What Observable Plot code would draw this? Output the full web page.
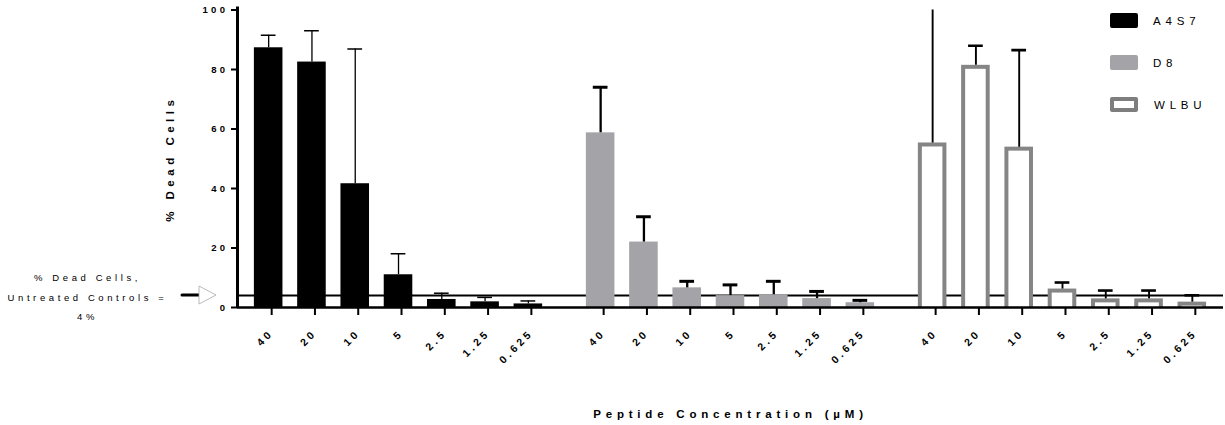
<!DOCTYPE html>
<html><head><meta charset="utf-8">
<script src="https://cdn.jsdelivr.net/npm/d3@7"></script>
<script src="https://cdn.jsdelivr.net/npm/@observablehq/plot@0.6"></script>
<style>
body{margin:0;background:#fff;font-family:"Liberation Sans",Arial,sans-serif;}
#wrap{position:relative;width:1225px;height:425px;overflow:hidden;}
#wrap svg{position:absolute;left:0;top:0;}
g[aria-label="y-axis tick label"] text{letter-spacing:3.4px;}
g[aria-label="x-axis tick label"] text{letter-spacing:3.3px;}
g[aria-label="x-axis label"] text{letter-spacing:4.8px;font-size:11.5px;font-weight:bold;}
g[aria-label="y-axis label"] text{letter-spacing:4.5px;font-size:11.5px;font-weight:bold;}
.ann{position:absolute;left:0;width:175px;text-align:center;font-size:9.5px;letter-spacing:3.6px;color:#000;line-height:12px;}
.leg{position:absolute;font-size:11.5px;letter-spacing:4.8px;color:#000;line-height:14px;}
.sw{position:absolute;border-radius:2px;}
</style></head><body><div id="wrap"></div>
<script>
// ---- data ----
const concentrations = ["40", "20", "10", "5", "2.5", "1.25", "0.625"];
const peptides = ["A4S7", "D8", "WLBU"];
const meanA4S7 = [87.3, 82.5, 41.6, 11.0, 2.7, 1.9, 1.2];
const sdA4S7   = [4.2, 10.5, 45.3, 7.1, 2.1, 1.5, 1.0];
const meanD8   = [58.7, 22.0, 6.6, 4.0, 4.3, 3.0, 1.6];
const sdD8     = [15.3, 8.5, 2.2, 3.6, 4.5, 2.4, 0.8];
const meanWLBU = [55.3, 81.4, 53.9, 6.2, 2.9, 2.9, 1.8];
const sdWLBU   = [50.0, 6.6, 32.6, 2.2, 2.8, 2.8, 2.3];
const controlPct = 4;
const yTicks = [0, 20, 40, 60, 80, 100];

// ---- layout constants ----
const groupGap = 0.67;   // extra spacing between peptide groups (in bar slots)
const xPad = 0.72;
const halfBar = 0.33, halfCap = 0.17;

const means = {A4S7: meanA4S7, D8: meanD8, WLBU: meanWLBU};
const sds = {A4S7: sdA4S7, D8: sdD8, WLBU: sdWLBU};
const rows = peptides.flatMap((p, g) => concentrations.map((c, i) => ({
  peptide: p, conc: c, pos: g * (concentrations.length + groupGap) + i,
  mean: means[p][i], upper: means[p][i] + sds[p][i]
})));
const labelOf = new Map(rows.map(d => [d.pos, d.conc]));
const lastPos = d3.max(rows, d => d.pos);
const of = p => rows.filter(d => d.peptide === p);

const style = {
  A4S7: {fill: "#000", stroke: "none", strokeWidth: 0, inset: 0, insetBottom: 0, err: 1.3, cap: 1.5},
  D8:   {fill: "#a3a3a8", stroke: "none", strokeWidth: 0, inset: 0, insetBottom: 0, err: 2.3, cap: 3},
  WLBU: {fill: "#fff", stroke: "#858585", strokeWidth: 4, inset: 2, insetBottom: -4, err: 1.9, cap: 2.6}
};

const marks = [
  Plot.ruleY([controlPct], {stroke: "#000", strokeWidth: 2})
];
for (const p of peptides) {
  const s = style[p];
  marks.push(Plot.rectY(of(p), {x1: d => d.pos - halfBar, x2: d => d.pos + halfBar, y1: 0, y2: "mean",
    fill: s.fill, stroke: s.stroke, strokeWidth: s.strokeWidth, inset: s.inset, insetBottom: s.insetBottom, clip: true}));
  marks.push(Plot.ruleX(of(p), {x: "pos", y1: "mean", y2: "upper", stroke: "#000", strokeWidth: s.err, clip: true}));
  marks.push(Plot.ruleY(of(p), {y: "upper", x1: d => d.pos - halfCap, x2: d => d.pos + halfCap, stroke: "#000", strokeWidth: s.cap, clip: true}));
}
marks.push(Plot.ruleY([0], {stroke: "#000", strokeWidth: 2.5}));
marks.push(Plot.ruleX([-xPad], {stroke: "#000", strokeWidth: 3, insetTop: -3}));
marks.push(Plot.axisY({ticks: yTicks, tickSize: 6, strokeWidth: 2, tickPadding: 3, fontSize: 9.5, fontWeight: "bold",
  label: "% Dead Cells", labelAnchor: "center", labelArrow: "none", labelOffset: 72}));
marks.push(Plot.axisX({ticks: rows.map(d => d.pos), tickFormat: d => labelOf.get(d), tickSize: 8, strokeWidth: 2,
  tickRotate: -45, tickPadding: 16, dx: 3, fontSize: 10.5, fontWeight: "bold",
  label: "Peptide Concentration (\u00b5M)", labelAnchor: "center", labelArrow: "none", labelOffset: 110}));

const chart = Plot.plot({
  width: 1225, height: 425,
  marginLeft: 237, marginRight: 2, marginTop: 9.5, marginBottom: 118,
  style: {fontFamily: "'Liberation Sans', Arial, sans-serif", color: "#000", background: "#fff"},
  x: {type: "linear", domain: [-xPad, lastPos + xPad]},
  y: {domain: [0, 100]},
  marks
});
const wrap = document.getElementById("wrap");
wrap.appendChild(chart);

// Legend
const legendStyle = {
  A4S7: "background:#000;",
  D8: "background:#a3a3a8;",
  WLBU: "background:#fff;border:4px solid #7e7e7e;box-sizing:border-box;"
};
peptides.forEach((p, i) => {
  const top = 13 + i * 42;
  const sw = document.createElement("div");
  sw.className = "sw";
  sw.style.cssText = `left:1110px;top:${top}px;width:28px;height:15px;` + legendStyle[p];
  wrap.appendChild(sw);
  const t = document.createElement("div");
  t.className = "leg";
  t.style.cssText = `left:${1153 + (p === "WLBU" ? 1 : 0)}px;top:${top + 1}px;`;
  t.textContent = p;
  wrap.appendChild(t);
});

// Annotation for the untreated-control line
const annLines = ["% Dead Cells,", "Untreated Controls =", controlPct + "%"];
annLines.forEach((txt, i) => {
  const d = document.createElement("div");
  d.className = "ann";
  d.style.top = (272 + i * 19.5) + "px";
  d.textContent = txt;
  wrap.appendChild(d);
});
const ns = "http://www.w3.org/2000/svg";
const arrow = document.createElementNS(ns, "svg");
arrow.setAttribute("width", 40); arrow.setAttribute("height", 30);
arrow.style.cssText = "position:absolute;left:180px;top:281px;";
arrow.innerHTML = '<line x1="2" y1="14" x2="19" y2="14" stroke="#000" stroke-width="3" stroke-linecap="round"/>' +
  '<polygon points="19,5 36,14 19,23" fill="#fff" stroke="#aaa" stroke-width="0.8"/>';
wrap.appendChild(arrow);
</script></body></html>
